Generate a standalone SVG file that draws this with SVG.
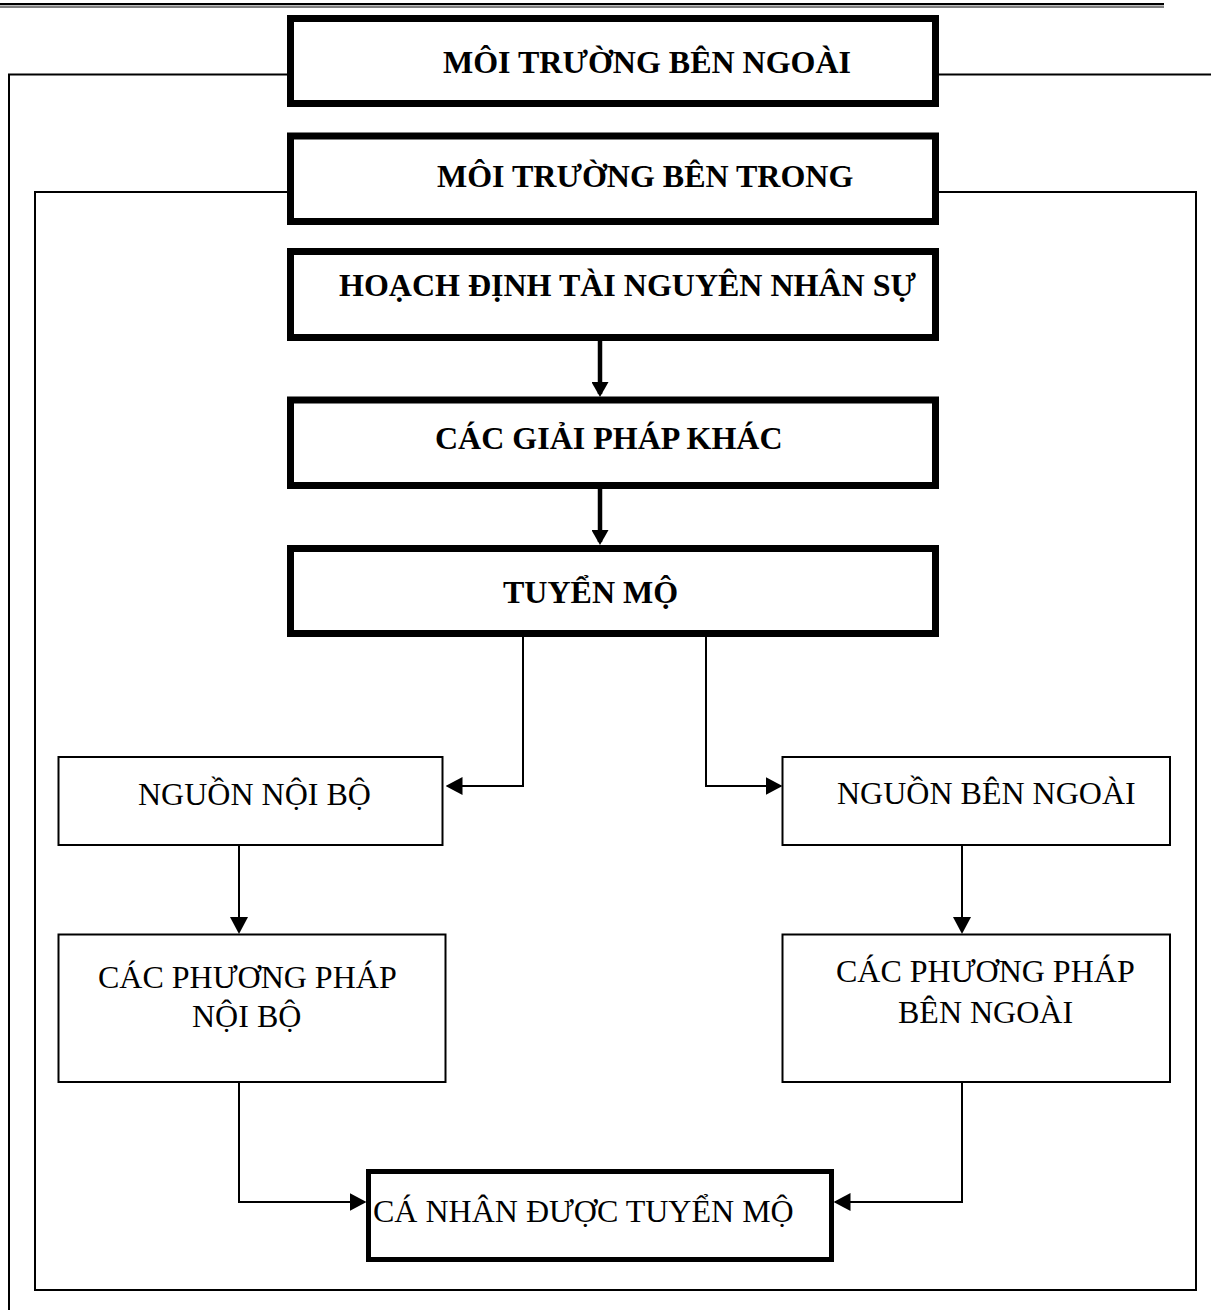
<svg xmlns="http://www.w3.org/2000/svg" width="1211" height="1310" viewBox="0 0 1211 1310">
  <style>
    .thick { fill: #fff; stroke: #000; stroke-width: 7; }
    .mid { fill: #fff; stroke: #000; stroke-width: 5; }
    .thin { fill: #fff; stroke: #000; stroke-width: 2; }
    .frame { fill: none; stroke: #000; stroke-width: 2; }
    .conn { fill: none; stroke: #000; stroke-width: 2; }
    .conn-bold { fill: none; stroke: #000; stroke-width: 4.5; }
    .head { font-family: "Liberation Serif", "Times New Roman", serif; font-weight: bold; font-size: 32px; fill: #000; }
    .label { font-family: "Liberation Serif", "Times New Roman", serif; font-size: 32px; fill: #000; }
  </style>
  <defs>
    <marker id="arrow" markerUnits="userSpaceOnUse" markerWidth="17" markerHeight="18" refX="15" refY="9" orient="auto">
      <path d="M0,0 L17,9 L0,18 z" fill="#000"/>
    </marker>
    <marker id="arrow-bold" markerUnits="userSpaceOnUse" markerWidth="15" markerHeight="17" refX="12" refY="8.5" orient="auto">
      <path d="M0,0 L15,8.5 L0,17 z" fill="#000"/>
    </marker>
  </defs>

  <rect width="1211" height="1310" fill="#fff"/>

  <!-- page header rule -->
  <g id="header-rule">
    <line x1="0" y1="4.2" x2="1164" y2="4.2" stroke="#000" stroke-width="2.3"/>
    <line x1="0" y1="7" x2="1164" y2="7" stroke="#000" stroke-width="1"/>
  </g>

  <!-- environment frames -->
  <g id="frames">
    <path class="frame" d="M287,74.5 H9 V1310"/>
    <path class="frame" d="M938,74.5 H1211"/>
    <path class="frame" d="M287,192 H35 V1290 H1196 V192 H938"/>
  </g>

  <!-- connectors -->
  <g id="connectors">
    <path class="conn-bold" d="M600,341 V394" marker-end="url(#arrow-bold)"/>
    <path class="conn-bold" d="M600,489 V542" marker-end="url(#arrow-bold)"/>
    <path class="conn" d="M523,637 V786 H447.5" marker-end="url(#arrow)"/>
    <path class="conn" d="M706,637 V786 H780.5" marker-end="url(#arrow)"/>
    <path class="conn" d="M239,845 V932" marker-end="url(#arrow)"/>
    <path class="conn" d="M962,845 V932" marker-end="url(#arrow)"/>
    <path class="conn" d="M239,1082 V1202 H364.5" marker-end="url(#arrow)"/>
    <path class="conn" d="M962,1082 V1202 H835.5" marker-end="url(#arrow)"/>
  </g>

  <g id="moi-truong-ben-ngoai">
    <rect class="thick" x="290.5" y="18.5" width="645" height="85"/>
    <text class="head" x="443" y="73">MÔI TRƯỜNG BÊN NGOÀI</text>
  </g>

  <g id="moi-truong-ben-trong">
    <rect class="thick" x="290.5" y="136" width="645" height="85.5"/>
    <text class="head" x="437" y="187">MÔI TRƯỜNG BÊN TRONG</text>
  </g>

  <g id="hoach-dinh">
    <rect class="thick" x="290.5" y="251.5" width="645" height="86"/>
    <text class="head" x="339" y="296">HOẠCH ĐỊNH TÀI NGUYÊN NHÂN SỰ</text>
  </g>

  <g id="cac-giai-phap-khac">
    <rect class="thick" x="290.5" y="400" width="645" height="85.5"/>
    <text class="head" x="435" y="449">CÁC GIẢI PHÁP KHÁC</text>
  </g>

  <g id="tuyen-mo">
    <rect class="thick" x="290.5" y="548.5" width="645" height="85"/>
    <text class="head" x="503" y="603">TUYỂN MỘ</text>
  </g>

  <g id="nguon-noi-bo">
    <rect class="thin" x="58.5" y="757" width="384" height="88"/>
    <text class="label" x="138" y="805">NGUỒN NỘI BỘ</text>
  </g>

  <g id="nguon-ben-ngoai">
    <rect class="thin" x="782.5" y="757" width="387.5" height="88"/>
    <text class="label" x="837" y="804">NGUỒN BÊN NGOÀI</text>
  </g>

  <g id="phuong-phap-noi-bo">
    <rect class="thin" x="58.5" y="934.5" width="387" height="147.5"/>
    <text class="label" x="98" y="988">CÁC PHƯƠNG PHÁP</text>
    <text class="label" x="192" y="1027">NỘI BỘ</text>
  </g>

  <g id="phuong-phap-ben-ngoai">
    <rect class="thin" x="782.5" y="934.5" width="387.5" height="147.5"/>
    <text class="label" x="836" y="982">CÁC PHƯƠNG PHÁP</text>
    <text class="label" x="898" y="1023">BÊN NGOÀI</text>
  </g>

  <g id="ca-nhan-duoc-tuyen-mo">
    <rect class="mid" x="368.5" y="1171.5" width="463" height="88"/>
    <text class="label" x="373" y="1222">CÁ NHÂN ĐƯỢC TUYỂN MỘ</text>
  </g>
</svg>
